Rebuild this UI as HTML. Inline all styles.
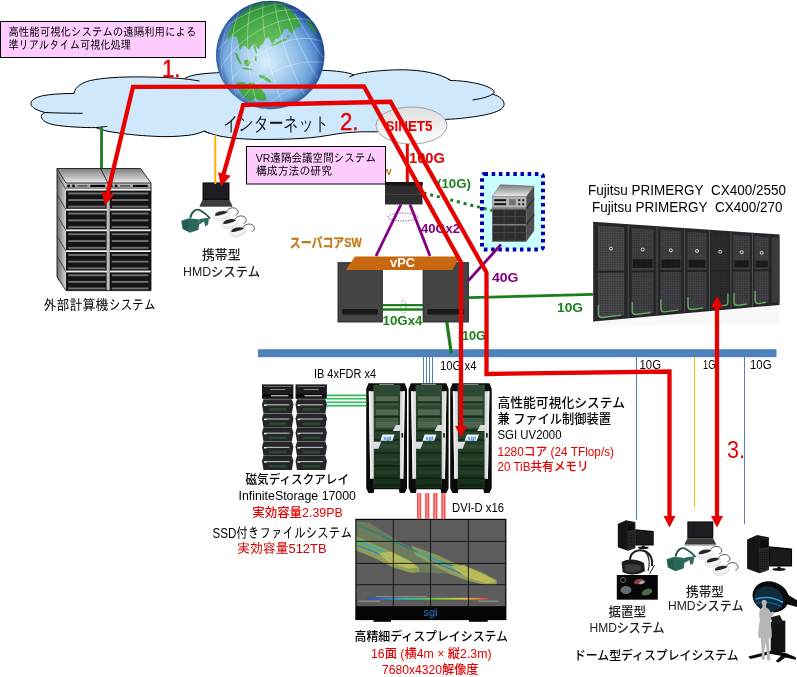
<!DOCTYPE html>
<html lang="ja"><head><meta charset="utf-8"><title>高性能可視化システム</title>
<style>
html,body{margin:0;padding:0;background:#fff;}
body{width:797px;height:677px;overflow:hidden;position:relative;}
svg{position:absolute;left:0;top:0;display:block;will-change:transform;}
text{font-family:"Liberation Sans","IPAGothic","Noto Sans CJK JP",sans-serif;}
.g{font-family:"Liberation Sans","WenQuanYi Zen Hei","IPAGothic",sans-serif;}
.n{font-family:"Liberation Sans","Noto Sans CJK JP",sans-serif;font-weight:500;}
.i{font-family:"Liberation Sans","IPAGothic","Noto Sans CJK JP",sans-serif;}
.b{font-weight:bold;}
</style></head><body>
<svg width="797" height="677" viewBox="0 0 797 677">
<defs>
<radialGradient id="globe" cx="0.46" cy="0.56" r="0.56">
<stop offset="0" stop-color="#daeefa"/><stop offset="0.35" stop-color="#acd2f0"/><stop offset="0.68" stop-color="#76ace0"/><stop offset="0.90" stop-color="#4278c4"/><stop offset="1" stop-color="#2a54a2"/>
</radialGradient>
<radialGradient id="land" gradientUnits="userSpaceOnUse" cx="340" cy="370" r="380">
<stop offset="0" stop-color="#7ccc6a"/><stop offset="0.45" stop-color="#55b450"/><stop offset="0.85" stop-color="#2f9636"/><stop offset="1" stop-color="#1f7a2c"/>
</radialGradient>
<radialGradient id="land2" gradientUnits="userSpaceOnUse" cx="400" cy="380" r="420">
<stop offset="0" stop-color="#7ccc6a"/><stop offset="0.45" stop-color="#55b450"/><stop offset="0.85" stop-color="#2f9636"/><stop offset="1" stop-color="#1f7a2c"/>
</radialGradient>
<radialGradient id="globeshade" cx="0.5" cy="0.5" r="0.5">
<stop offset="0" stop-color="#10306a" stop-opacity="0"/><stop offset="0.86" stop-color="#10306a" stop-opacity="0"/><stop offset="1" stop-color="#10306a" stop-opacity="0.45"/>
</radialGradient>
<linearGradient id="sinet" x1="0" y1="0" x2="0" y2="1"><stop offset="0" stop-color="#dedede"/><stop offset="1" stop-color="#ffffff"/></linearGradient>
<linearGradient id="topface" x1="0" y1="0" x2="0" y2="1"><stop offset="0" stop-color="#7c7c7c"/><stop offset="1" stop-color="#ececec"/></linearGradient>
<linearGradient id="panel" x1="0" y1="0" x2="0" y2="1"><stop offset="0" stop-color="#d0d0d0"/><stop offset="1" stop-color="#808080"/></linearGradient>
<linearGradient id="sideface" x1="0" y1="0" x2="1" y2="0"><stop offset="0" stop-color="#6c6c6c"/><stop offset="1" stop-color="#d4d4d4"/></linearGradient>
<linearGradient id="colorbar" x1="0" y1="0" x2="1" y2="0"><stop offset="0" stop-color="#3040d0"/><stop offset="0.3" stop-color="#30c0c0"/><stop offset="0.55" stop-color="#60d040"/><stop offset="0.8" stop-color="#e0d040"/><stop offset="1" stop-color="#e04030"/></linearGradient>
<linearGradient id="pcb" x1="0" y1="0" x2="0" y2="1"><stop offset="0" stop-color="#2e4a34"/><stop offset="0.45" stop-color="#25422a"/><stop offset="1" stop-color="#17301c"/></linearGradient>
<pattern id="mesh" width="2.400" height="2.400" patternUnits="userSpaceOnUse"><rect x="0" y="0" width="1.200" height="1.200" fill="#000" fill-opacity="0.35"/></pattern>
<clipPath id="globeclip"><circle cx="270.200" cy="55.100" r="54.300"/></clipPath>
<clipPath id="dispclip"><rect x="356.500" y="520" width="148.700" height="86.200"/></clipPath>
<pattern id="mesh2" width="8" height="8" patternUnits="userSpaceOnUse"><rect x="0" y="0" width="8" height="8" fill="#262626"/><rect x="0" y="0" width="4" height="4" fill="#0c0c0c"/></pattern>
</defs>
<g id="cloud">
<path d="M30.900,103.300 C31.500,99 38,96 48.800,94.800 C57,93.800 66,93.400 74.200,93.500 C74,89 79,84.500 86.500,81.600 C96,78.500 115,77 133.500,76.900 C150,76.800 170,77.500 184.500,78.800 C188,75.500 200,73.500 216.500,72.800 C250,70 300,69.500 322.600,70.300 C335,70.800 348,72 354,75 C360,72.500 385,69.500 403.500,69.800 C420,70 440,73 450.800,80.500 C465,80.500 489,84.500 493.800,90.800 C494.500,92 494,93.200 492.600,94.200 C499.500,96 504.300,100 504.100,104.600 C503.500,111 490,115 465.900,117.800 C458,118.800 452,119.200 446,119.300 C430,122 400,131 375.300,131.900 C365,131.500 350,132 337.600,133.800 C325,136 312,138 300,138.500 C290,139.200 270,139.600 254.100,139.400 C240,139 225,137.500 216.500,135.300 C212,134 207,132.500 204.200,131.100 C199,133.500 192,135 188.200,135.300 C175,136.800 165,137 152.300,136.200 C140,135.500 125,134.300 109,131.500 C104,130.500 99,129 95.900,127.600 C85,127.800 65,126.800 54.500,124.900 C47,123.500 41.500,120.500 41.300,116.500 C41.200,114.500 43,113.300 45.100,112.500 C37,110.500 31,107.500 30.900,103.300 Z" fill="#cfe8fc" stroke="#000" stroke-width="1"/>
<path d="M45.100,112.500 C55,113 70,113.300 82.700,113.300 M95.900,127.600 L107.200,126.400 M184.500,78.800 C190,79.500 195,80.300 199.500,81 M204.200,131.100 L209,133.200 M349.300,76.900 L354,75 M450.800,80.500 L448,79 M492.600,94.200 C489,96.500 482,98.700 472.500,99.900" fill="none" stroke="#000" stroke-width="1"/>
</g>
<g id="globe">
<circle cx="270.200" cy="55.100" r="54.300" fill="url(#globe)"/>
<g clip-path="url(#globeclip)">
<g transform="translate(210,0) scale(0.15060)" fill="url(#land2)">
<path d="M115,255 L125,215 L150,160 L185,110 L240,60 L300,25 L370,8 L440,12 L500,35 L540,70 L575,110 L600,150 L605,165 L590,180 L570,185 L560,200 L548,220 L530,215 L520,195 L505,190 L490,200 L480,225 L465,245 L450,255 L435,258 L425,280 L412,292 L402,272 L392,248 L375,250 L362,270 L352,292 L335,300 L325,330 L312,312 L300,295 L285,295 L270,312 L258,330 L245,318 L235,305 L218,302 L205,325 L198,335 L192,300 L185,265 L175,245 L150,240 L130,255 L120,270 Z"/>
<path d="M405,300 L430,290 L455,275 L480,262 L500,255 L515,262 L495,272 L470,285 L445,298 L415,308 Z"/>
<path d="M508,236 L522,232 L532,244 L520,252 L510,248 Z"/>
<path d="M165,350 L180,355 L200,400 L215,430 L200,425 L180,395 Z"/>
<path d="M225,400 L255,395 L268,415 L255,440 L230,435 Z"/>
<path d="M295,370 L308,375 L310,410 L298,400 Z"/>
<path d="M290,300 L302,300 L308,335 L314,358 L304,350 L296,330 Z"/>
<path d="M210,446 L245,452 L280,460 L278,468 L242,462 L210,455 Z"/>
<path d="M640,125 L670,150 L700,190 L715,230 L690,215 L660,180 L640,150 Z"/>
</g>
<g transform="translate(210,0) scale(0.16556)" fill="url(#land)">
<path d="M296,452 L330,458 L362,480 L372,500 L352,496 L326,478 L298,466 Z"/>
<path d="M160,500 L196,494 L226,508 L246,498 L262,500 L284,516 L312,540 L334,570 L342,596 L326,612 L296,604 L270,596 L246,608 L214,592 L190,566 L170,536 Z"/>
</g>
<g transform="translate(210,0) scale(0.16556)" fill="none" stroke="#ffffff" stroke-opacity="0.55" stroke-width="4">
<path d="M60,420 C120,300 260,180 420,130 C520,100 600,110 660,150"/>
<path d="M50,300 C130,200 260,110 400,70 C480,50 560,60 620,90"/>
<path d="M80,180 C160,100 280,50 380,30 C440,20 500,25 540,40"/>
<path d="M100,530 C160,420 300,300 460,250 C560,220 640,230 692,260"/>
<path d="M180,620 C240,520 360,430 500,390 C580,370 650,370 690,380"/>
<path d="M330,660 C380,590 470,540 560,520 C610,510 650,510 670,515"/>
<path d="M180,60 C120,200 110,400 160,600"/>
<path d="M250,20 C210,180 220,420 290,650"/>
<path d="M320,5 C310,170 350,420 440,630"/>
<path d="M390,10 C410,170 470,400 570,570"/>
<path d="M450,40 C500,180 570,360 650,470"/>
<path d="M510,80 C570,180 630,280 685,350"/>
<path d="M120,130 C60,240 50,380 90,520"/>
</g>
</g>
<circle cx="270.200" cy="55.100" r="54" fill="url(#globeshade)"/>
</g>
<g id="sinet">
<ellipse cx="411.500" cy="125.500" rx="35.500" ry="18.500" fill="url(#sinet)" stroke="#a0a0a0" stroke-width="1"/>
</g>
<g id="extracks">
<polygon points="57,168.500 66,183 66,290.600 57,277" fill="url(#sideface)"/>
<rect x="66" y="183" width="85" height="107.600" fill="#141414"/>
<rect x="66" y="183" width="85" height="5.800" fill="url(#panel)"/>
<rect x="67.3" y="184.600" width="2.600" height="2.600" fill="#0a0a0a"/><rect x="72.2" y="184.600" width="2.600" height="2.600" fill="#0a0a0a"/><rect x="77.5" y="185" width="10" height="1.600" fill="#555"/><rect x="90.3" y="184.800" width="14.800" height="2.200" fill="#050505"/>
<rect x="109.9" y="184.600" width="2.600" height="2.600" fill="#0a0a0a"/><rect x="114.8" y="184.600" width="2.600" height="2.600" fill="#0a0a0a"/><rect x="120.1" y="185" width="10" height="1.600" fill="#555"/><rect x="132.9" y="184.800" width="14.800" height="2.200" fill="#050505"/>
<rect x="66" y="188.8" width="85" height="1.800" fill="#eeeeee"/>
<rect x="68.200" y="192.5" width="37.300" height="1.900" fill="#707070"/><rect x="111.800" y="192.5" width="36.600" height="1.900" fill="#707070"/>
<rect x="68.200" y="199.1" width="37.300" height="1.900" fill="#707070"/><rect x="111.800" y="199.1" width="36.600" height="1.900" fill="#707070"/>
<rect x="68.200" y="205.7" width="37.300" height="1.900" fill="#707070"/><rect x="111.800" y="205.7" width="36.600" height="1.900" fill="#707070"/>
<polygon points="57,175.5 66,190.6 66,188.8 57,173.7" fill="#4a4a4a"/>
<rect x="66" y="208.8" width="85" height="1.800" fill="#eeeeee"/>
<rect x="68.200" y="212.6" width="37.300" height="1.900" fill="#707070"/><rect x="111.800" y="212.6" width="36.600" height="1.900" fill="#707070"/>
<rect x="68.200" y="219.4" width="37.300" height="1.900" fill="#707070"/><rect x="111.800" y="219.4" width="36.600" height="1.900" fill="#707070"/>
<rect x="68.200" y="226.2" width="37.300" height="1.900" fill="#707070"/><rect x="111.800" y="226.2" width="36.600" height="1.900" fill="#707070"/>
<polygon points="57,195.5 66,210.6 66,208.8 57,193.7" fill="#4a4a4a"/>
<rect x="66" y="229.4" width="85" height="1.800" fill="#eeeeee"/>
<rect x="68.200" y="233.3" width="37.300" height="1.900" fill="#707070"/><rect x="111.800" y="233.3" width="36.600" height="1.900" fill="#707070"/>
<rect x="68.200" y="240.1" width="37.300" height="1.900" fill="#707070"/><rect x="111.800" y="240.1" width="36.600" height="1.900" fill="#707070"/>
<rect x="68.200" y="246.9" width="37.300" height="1.900" fill="#707070"/><rect x="111.800" y="246.9" width="36.600" height="1.900" fill="#707070"/>
<polygon points="57,216.1 66,231.2 66,229.4 57,214.3" fill="#4a4a4a"/>
<rect x="66" y="250.2" width="85" height="1.800" fill="#eeeeee"/>
<rect x="68.200" y="254.0" width="37.300" height="1.900" fill="#707070"/><rect x="111.800" y="254.0" width="36.600" height="1.900" fill="#707070"/>
<rect x="68.200" y="260.7" width="37.300" height="1.900" fill="#707070"/><rect x="111.800" y="260.7" width="36.600" height="1.900" fill="#707070"/>
<rect x="68.200" y="267.4" width="37.300" height="1.900" fill="#707070"/><rect x="111.800" y="267.4" width="36.600" height="1.900" fill="#707070"/>
<polygon points="57,236.9 66,252.0 66,250.2 57,235.1" fill="#4a4a4a"/>
<rect x="66" y="270.6" width="85" height="1.800" fill="#eeeeee"/>
<rect x="68.200" y="274.3" width="37.300" height="1.900" fill="#707070"/><rect x="111.800" y="274.3" width="36.600" height="1.900" fill="#707070"/>
<rect x="68.200" y="280.9" width="37.300" height="1.900" fill="#707070"/><rect x="111.800" y="280.9" width="36.600" height="1.900" fill="#707070"/>
<rect x="68.200" y="287.5" width="37.300" height="1.900" fill="#707070"/><rect x="111.800" y="287.5" width="36.600" height="1.900" fill="#707070"/>
<polygon points="57,257.3 66,272.4 66,270.6 57,255.5" fill="#4a4a4a"/>
<rect x="106.600" y="183" width="2.400" height="107.600" fill="#bcbcbc"/>
<rect x="109" y="190" width="1" height="100" fill="#888"/>
<polygon points="57,168.500 140.500,168.500 151,183 66,183" fill="url(#topface)" stroke="#1a1a1a" stroke-width="0.9"/>
<line x1="100.500" y1="168.500" x2="108" y2="183" stroke="#1a1a1a" stroke-width="0.9"/>
<path d="M57,168.500 L57,277 L66,290.600 L151,290.600 L151,183" fill="none" stroke="#1a1a1a" stroke-width="0.9"/>
</g>
<g id="laptop1">
<rect x="202.5" y="182.4" width="27" height="17.7" fill="#101010"/>
<rect x="203.7" y="183.6" width="24.6" height="14.7" fill="#1e1e22"/>
<polygon points="202.5,200.1 229.5,200.1 232.5,206.0 199.5,206.0" fill="#3c3c3c"/>
<polygon points="199.5,206.0 232.5,206.0 232.0,207.0 200.0,207.0" fill="#777"/>
</g>
<g id="ghmd1" transform="translate(170,175) scale(0.125)">
<path d="M162,345 C172,292 212,262 247,286 C276,302 300,322 322,348" fill="none" stroke="#1f564c" stroke-width="15"/>
<path d="M225,358 C258,348 290,340 312,346 L304,398 L282,412 L272,372 L234,396 Z" fill="#2b6a5c"/>
<path d="M90,366 L150,346 L226,353 L234,396 L226,440 L160,462 L100,432 Z" fill="#2e6f61"/>
<path d="M98,374 L148,358 L152,452 L106,428 Z" fill="#255c50"/>
<path d="M152,358 L222,362 L226,436 L156,452 Z" fill="#2a665a"/>
</g>
<g id="whmd1" transform="translate(170,175) scale(0.125)">
<g transform="translate(0,0)"><path d="M452,292 C470,255 530,250 545,290 C548,306 540,316 524,322" fill="none" stroke="#3c3c3c" stroke-width="7"/><path d="M345,332 C348,312 362,300 384,294 C410,286 440,284 462,290 C476,296 478,318 470,336 C450,352 420,362 396,366 C372,366 350,354 345,332 Z" fill="#f6f6fa" stroke="#c8c8d0" stroke-width="4"/><path d="M360,318 C366,304 380,296 396,292 C420,286 444,286 464,296 C452,306 436,312 420,316 C400,322 380,326 362,326 Z" fill="#262626"/><path d="M352,340 C370,352 400,354 430,346 C450,340 462,334 470,326" fill="none" stroke="#d0d0d8" stroke-width="5"/></g>
<g transform="translate(65,65)"><path d="M452,292 C470,255 530,250 545,290 C548,306 540,316 524,322" fill="none" stroke="#3c3c3c" stroke-width="7"/><path d="M345,332 C348,312 362,300 384,294 C410,286 440,284 462,290 C476,296 478,318 470,336 C450,352 420,362 396,366 C372,366 350,354 345,332 Z" fill="#f6f6fa" stroke="#c8c8d0" stroke-width="4"/><path d="M360,318 C366,304 380,296 396,292 C420,286 444,286 464,296 C452,306 436,312 420,316 C400,322 380,326 362,326 Z" fill="#262626"/><path d="M352,340 C370,352 400,354 430,346 C450,340 462,334 470,326" fill="none" stroke="#d0d0d8" stroke-width="5"/></g>
<g transform="translate(130,130)"><path d="M452,292 C470,255 530,250 545,290 C548,306 540,316 524,322" fill="none" stroke="#3c3c3c" stroke-width="7"/><path d="M345,332 C348,312 362,300 384,294 C410,286 440,284 462,290 C476,296 478,318 470,336 C450,352 420,362 396,366 C372,366 350,354 345,332 Z" fill="#f6f6fa" stroke="#c8c8d0" stroke-width="4"/><path d="M360,318 C366,304 380,296 396,292 C420,286 444,286 464,296 C452,306 436,312 420,316 C400,322 380,326 362,326 Z" fill="#262626"/><path d="M352,340 C370,352 400,354 430,346 C450,340 462,334 470,326" fill="none" stroke="#d0d0d8" stroke-width="5"/></g>
</g>
<g id="coresw">
<text class="g b" x="382.500" y="175" font-size="9.500" fill="#c47a1a">W</text>
<rect x="385" y="182" width="37.500" height="22.500" fill="#2e2e2e"/>
<rect x="385" y="182" width="37.500" height="3.500" fill="#151515"/>
<rect x="385" y="194" width="37.500" height="1" fill="#444"/>
</g>
<g id="supercore">
<rect x="337.700" y="262.300" width="45" height="60" fill="#444444"/>
<rect x="338.200" y="262.800" width="44" height="59" fill="none" stroke="#333333" stroke-width="1"/>
<rect x="342" y="309" width="36" height="5.500" rx="1.500" fill="#1a1a1a"/>
<rect x="422.800" y="262.300" width="46" height="60" fill="#444444"/>
<rect x="423.300" y="262.800" width="45" height="59" fill="none" stroke="#333333" stroke-width="1"/>
<rect x="427.300" y="309" width="37" height="5.500" rx="1.500" fill="#1a1a1a"/>
</g>
<g id="dotbox">
<rect x="482" y="174" width="61" height="75.500" fill="#ccffff"/>
<rect x="482" y="174" width="61" height="75.500" fill="none" rx="2.500" stroke="#0000b0" stroke-width="4" stroke-dasharray="3.500 3.700"/>
</g>
<g id="router">
<polygon points="500.2,184.7 534.2,186.2 526.2,196.7 492.2,196.7" fill="url(#topface)" stroke="#555" stroke-width="0.5"/>
<polygon points="534.2,186.2 534.2,230.7 526.2,241.7 526.2,196.7" fill="#505050"/>
<polygon points="534.2,197.7 534.2,199.7 526.2,209.7 526.2,207.7" fill="#2a2a2a"/>
<polygon points="534.2,213.7 534.2,215.7 526.2,225.7 526.2,223.7" fill="#2a2a2a"/>
<rect x="492.2" y="196.7" width="34.0" height="45" fill="#3c3c3c"/>
<rect x="492.2" y="196.7" width="34.0" height="11" fill="#b4b4b4"/>
<rect x="494.2" y="199.2" width="12" height="2" fill="#111"/><rect x="494.2" y="203.2" width="12" height="2" fill="#111"/>
<rect x="509.2" y="199.2" width="6.500" height="6" fill="#707070"/>
<rect x="518.2" y="199.2" width="2" height="2" fill="#222"/><rect x="522.2" y="199.2" width="2" height="2" fill="#222"/><rect x="518.2" y="203.2" width="2" height="2" fill="#222"/><rect x="522.2" y="203.2" width="2" height="2" fill="#222"/>
<rect x="493.2" y="209.7" width="32.0" height="14" fill="#2c2c2c"/>
<rect x="493.2" y="216.2" width="32.0" height="1" fill="#4c4c4c"/>
<rect x="503.7" y="209.7" width="0.800" height="14" fill="#4c4c4c"/><rect x="514.7" y="209.7" width="0.800" height="14" fill="#4c4c4c"/>
<rect x="492.2" y="208.2" width="34.0" height="1.200" fill="#909090"/>
<rect x="493.2" y="225.7" width="32.0" height="14" fill="#2c2c2c"/>
<rect x="493.2" y="232.2" width="32.0" height="1" fill="#4c4c4c"/>
<rect x="503.7" y="225.7" width="0.800" height="14" fill="#4c4c4c"/><rect x="514.7" y="225.7" width="0.800" height="14" fill="#4c4c4c"/>
<rect x="492.2" y="224.2" width="34.0" height="1.200" fill="#909090"/>
</g>
<g id="fujitsu">
<polygon points="593,319.4 779.5,302.9 779.5,325 593,326" fill="#f8f8f8"/>
<polygon points="593,221.7 779.5,234.5 779.5,304.9 593,321.4" fill="#26262a"/>
<polygon points="597.9,225.5 624.2,227.3 624.2,270.5 597.9,270.8" fill="#4a4a4e"/>
<polygon points="597.9,272.8 624.2,272.5 624.2,315.6 597.9,318.0" fill="#4a4a4e"/>
<polygon points="597.9,225.5 624.2,227.3 624.2,315.6 597.9,318.0" fill="url(#mesh)"/>
<line x1="593.5" y1="222.7" x2="593.5" y2="320.4" stroke="#5a5a5a" stroke-width="0.8"/>
<circle cx="611.0" cy="248.6" r="1.500" fill="none" stroke="#e8e8e8" stroke-width="0.9"/>
<path d="M598.4,305.0 L598.4,314.0 Q598.4,317.5 602.4,317.5 L621.2,315.1" fill="none" stroke="#62b05a" stroke-width="1.400"/>
<polygon points="631.7,227.9 653.6,229.4 653.6,270.2 631.7,270.4" fill="#424246"/>
<polygon points="631.7,272.4 653.6,272.2 653.6,313.0 631.7,315.0" fill="#424246"/>
<polygon points="631.7,227.9 653.6,229.4 653.6,313.0 631.7,315.0" fill="url(#mesh)"/>
<rect x="632.7" y="259.2" width="19.9" height="8.7" fill="#1a1a1a"/>
<line x1="628.2" y1="225.1" x2="628.2" y2="317.3" stroke="#5a5a5a" stroke-width="0.8"/>
<circle cx="642.7" cy="249.5" r="1.500" fill="none" stroke="#e8e8e8" stroke-width="0.9"/>
<path d="M632.2,302.0 L632.2,311.0 Q632.2,314.5 636.2,314.5 L650.6,312.5" fill="none" stroke="#62b05a" stroke-width="1.400"/>
<polygon points="660.4,229.8 681.2,231.3 681.2,269.9 660.4,270.1" fill="#424246"/>
<polygon points="660.4,272.1 681.2,271.9 681.2,310.6 660.4,312.4" fill="#424246"/>
<polygon points="660.4,229.8 681.2,231.3 681.2,310.6 660.4,312.4" fill="url(#mesh)"/>
<rect x="661.4" y="259.6" width="18.9" height="8.3" fill="#1a1a1a"/>
<line x1="657.0" y1="227.1" x2="657.0" y2="314.8" stroke="#5a5a5a" stroke-width="0.8"/>
<circle cx="670.8" cy="250.3" r="1.500" fill="none" stroke="#e8e8e8" stroke-width="0.9"/>
<path d="M660.9,299.4 L660.9,308.4 Q660.9,311.9 664.9,311.9 L678.2,310.1" fill="none" stroke="#62b05a" stroke-width="1.400"/>
<polygon points="687.5,231.7 706.5,233.0 706.5,269.7 687.5,269.9" fill="#424246"/>
<polygon points="687.5,271.9 706.5,271.7 706.5,308.4 687.5,310.0" fill="#424246"/>
<polygon points="687.5,231.7 706.5,233.0 706.5,308.4 687.5,310.0" fill="url(#mesh)"/>
<rect x="688.5" y="259.9" width="17.0" height="7.8" fill="#1a1a1a"/>
<line x1="684.5" y1="228.9" x2="684.5" y2="312.3" stroke="#5a5a5a" stroke-width="0.8"/>
<circle cx="697.0" cy="251.0" r="1.500" fill="none" stroke="#e8e8e8" stroke-width="0.9"/>
<path d="M688.0,297.0 L688.0,306.0 Q688.0,309.5 692.0,309.5 L703.5,307.9" fill="none" stroke="#62b05a" stroke-width="1.400"/>
<polygon points="712.0,233.4 728.4,234.5 728.4,269.5 712.0,269.6" fill="#2e2e30"/>
<polygon points="712.0,271.6 728.4,271.5 728.4,306.4 712.0,307.9" fill="#2e2e30"/>
<polygon points="712.0,233.4 728.4,234.5 728.4,306.4 712.0,307.9" fill="url(#mesh)"/>
<line x1="709.5" y1="230.7" x2="709.5" y2="310.1" stroke="#5a5a5a" stroke-width="0.8"/>
<circle cx="720.2" cy="251.7" r="1.500" fill="none" stroke="#e8e8e8" stroke-width="0.9"/>
<path d="M727.9,293.4 L727.9,302.4 Q727.9,305.4 723.9,305.4 L715.0,306.9" fill="none" stroke="#62b05a" stroke-width="1.400"/>
<polygon points="733.5,234.8 749.9,236.0 749.9,269.2 733.5,269.4" fill="#424246"/>
<polygon points="733.5,271.4 749.9,271.2 749.9,304.5 733.5,306.0" fill="#424246"/>
<polygon points="733.5,234.8 749.9,236.0 749.9,304.5 733.5,306.0" fill="url(#mesh)"/>
<rect x="734.5" y="260.4" width="14.3" height="7.1" fill="#1a1a1a"/>
<line x1="731.0" y1="232.1" x2="731.0" y2="308.2" stroke="#5a5a5a" stroke-width="0.8"/>
<circle cx="741.7" cy="252.2" r="1.500" fill="none" stroke="#e8e8e8" stroke-width="0.9"/>
<path d="M734.0,293.0 L734.0,302.0 Q734.0,305.5 738.0,305.5 L746.9,304.0" fill="none" stroke="#62b05a" stroke-width="1.400"/>
<polygon points="754.6,236.3 768.8,237.3 768.8,269.1 754.6,269.2" fill="#424246"/>
<polygon points="754.6,271.2 768.8,271.1 768.8,302.8 754.6,304.1" fill="#424246"/>
<polygon points="754.6,236.3 768.8,237.3 768.8,302.8 754.6,304.1" fill="url(#mesh)"/>
<rect x="755.6" y="260.7" width="12.2" height="6.8" fill="#1a1a1a"/>
<line x1="752.5" y1="233.6" x2="752.5" y2="306.3" stroke="#5a5a5a" stroke-width="0.8"/>
<circle cx="761.7" cy="252.8" r="1.500" fill="none" stroke="#e8e8e8" stroke-width="0.9"/>
<path d="M755.1,291.1 L755.1,300.1 Q755.1,303.6 759.1,303.6 L765.8,302.3" fill="none" stroke="#62b05a" stroke-width="1.400"/>
<polygon points="771.7,236.9 779.5,237.5 779.5,301.9 771.7,302.7" fill="#3a3a3a"/>
</g>
<g id="bus">
<rect x="258" y="349.200" width="518.500" height="8" fill="#4f81bd"/>
</g>
<g id="storage">
<rect x="262.0" y="384.400" width="31.4" height="14.500" fill="#1c1c1c"/>
<rect x="264.0" y="386" width="27.4" height="1" fill="#6a6a6a"/>
<rect x="270.0" y="389" width="15.399999999999999" height="1" fill="#888"/>
<rect x="263.0" y="394" width="29.4" height="3.200" fill="#080808"/>
<rect x="271.0" y="395" width="17.4" height="1.400" fill="#b0b0b0"/>
<polygon points="263.5,399.2 291.9,399.2 293.4,404.2 291.9,413.2 263.5,413.2 262.0,404.2" fill="#24262a"/>
<rect x="266.0" y="404.2" width="23.4" height="1.200" fill="#b4b4b4"/>
<rect x="264.0" y="404.4" width="2.500" height="1.500" fill="#e8e8e8"/>
<rect x="269.0" y="408.2" width="17.4" height="2.500" fill="#2c4a30"/>
<polygon points="263.5,413.4 291.9,413.4 293.4,418.4 291.9,427.4 263.5,427.4 262.0,418.4" fill="#24262a"/>
<rect x="266.0" y="418.4" width="23.4" height="1.200" fill="#b4b4b4"/>
<rect x="264.0" y="418.6" width="2.500" height="1.500" fill="#e8e8e8"/>
<rect x="269.0" y="422.4" width="17.4" height="2.500" fill="#2c4a30"/>
<polygon points="263.5,427.6 291.9,427.6 293.4,432.6 291.9,441.6 263.5,441.6 262.0,432.6" fill="#24262a"/>
<rect x="266.0" y="432.6" width="23.4" height="1.200" fill="#b4b4b4"/>
<rect x="264.0" y="432.8" width="2.500" height="1.500" fill="#e8e8e8"/>
<rect x="269.0" y="436.6" width="17.4" height="2.500" fill="#2c4a30"/>
<polygon points="263.5,441.8 291.9,441.8 293.4,446.8 291.9,455.8 263.5,455.8 262.0,446.8" fill="#24262a"/>
<rect x="266.0" y="446.8" width="23.4" height="1.200" fill="#b4b4b4"/>
<rect x="264.0" y="447.0" width="2.500" height="1.500" fill="#e8e8e8"/>
<rect x="269.0" y="450.8" width="17.4" height="2.500" fill="#2c4a30"/>
<polygon points="263.5,456.0 291.9,456.0 293.4,461.0 291.9,470.0 263.5,470.0 262.0,461.0" fill="#24262a"/>
<rect x="266.0" y="461.0" width="23.4" height="1.200" fill="#b4b4b4"/>
<rect x="264.0" y="461.2" width="2.500" height="1.500" fill="#e8e8e8"/>
<rect x="269.0" y="465.0" width="17.4" height="2.500" fill="#2c4a30"/>
<rect x="295.5" y="384.400" width="31.4" height="14.500" fill="#1c1c1c"/>
<rect x="297.5" y="386" width="27.4" height="1" fill="#6a6a6a"/>
<rect x="303.5" y="389" width="15.399999999999999" height="1" fill="#888"/>
<rect x="296.5" y="394" width="29.4" height="3.200" fill="#080808"/>
<rect x="304.5" y="395" width="17.4" height="1.400" fill="#b0b0b0"/>
<polygon points="297.0,399.2 325.4,399.2 326.9,404.2 325.4,413.2 297.0,413.2 295.5,404.2" fill="#24262a"/>
<rect x="299.5" y="404.2" width="23.4" height="1.200" fill="#b4b4b4"/>
<rect x="297.5" y="404.4" width="2.500" height="1.500" fill="#e8e8e8"/>
<rect x="302.5" y="408.2" width="17.4" height="2.500" fill="#2c4a30"/>
<polygon points="297.0,413.4 325.4,413.4 326.9,418.4 325.4,427.4 297.0,427.4 295.5,418.4" fill="#24262a"/>
<rect x="299.5" y="418.4" width="23.4" height="1.200" fill="#b4b4b4"/>
<rect x="297.5" y="418.6" width="2.500" height="1.500" fill="#e8e8e8"/>
<rect x="302.5" y="422.4" width="17.4" height="2.500" fill="#2c4a30"/>
<polygon points="297.0,427.6 325.4,427.6 326.9,432.6 325.4,441.6 297.0,441.6 295.5,432.6" fill="#24262a"/>
<rect x="299.5" y="432.6" width="23.4" height="1.200" fill="#b4b4b4"/>
<rect x="297.5" y="432.8" width="2.500" height="1.500" fill="#e8e8e8"/>
<rect x="302.5" y="436.6" width="17.4" height="2.500" fill="#2c4a30"/>
<polygon points="297.0,441.8 325.4,441.8 326.9,446.8 325.4,455.8 297.0,455.8 295.5,446.8" fill="#24262a"/>
<rect x="299.5" y="446.8" width="23.4" height="1.200" fill="#b4b4b4"/>
<rect x="297.5" y="447.0" width="2.500" height="1.500" fill="#e8e8e8"/>
<rect x="302.5" y="450.8" width="17.4" height="2.500" fill="#2c4a30"/>
<polygon points="297.0,456.0 325.4,456.0 326.9,461.0 325.4,470.0 297.0,470.0 295.5,461.0" fill="#24262a"/>
<rect x="299.5" y="461.0" width="23.4" height="1.200" fill="#b4b4b4"/>
<rect x="297.5" y="461.2" width="2.500" height="1.500" fill="#e8e8e8"/>
<rect x="302.5" y="465.0" width="17.4" height="2.500" fill="#2c4a30"/>
</g>
<g id="sgi1" transform="translate(366.2,383.3) scale(0.18545,0.18593)">
<path d="M12,0 L208,0 L220,30 L220,565 L208,590 L180,590 L176,570 L44,570 L40,590 L12,590 L0,565 L0,30 Z" fill="#0b0b0b"/>
<rect x="38" y="8" width="146" height="555" fill="url(#pcb)"/>
<rect x="52" y="70" width="120" height="26" fill="#a8b8a4" fill-opacity="0.3"/>
<rect x="52" y="105" width="120" height="14" fill="#a8b8a4" fill-opacity="0.18"/>
<rect x="52" y="140" width="120" height="30" fill="#a8b8a4" fill-opacity="0.32"/>
<rect x="52" y="185" width="120" height="18" fill="#a8b8a4" fill-opacity="0.2"/>
<rect x="52" y="205" width="120" height="34" fill="#a8b8a4" fill-opacity="0.3"/>
<rect x="52" y="330" width="120" height="20" fill="#a8b8a4" fill-opacity="0.1"/>
<rect x="52" y="400" width="120" height="18" fill="#a8b8a4" fill-opacity="0.08"/>
<rect x="52" y="470" width="120" height="18" fill="#a8b8a4" fill-opacity="0.08"/>
<rect x="44" y="98" width="136" height="9" fill="#081008" fill-opacity="0.5"/>
<rect x="44" y="176" width="136" height="9" fill="#081008" fill-opacity="0.5"/>
<rect x="44" y="250" width="136" height="9" fill="#081008" fill-opacity="0.5"/>
<rect x="44" y="300" width="136" height="9" fill="#081008" fill-opacity="0.5"/>
<rect x="44" y="370" width="136" height="9" fill="#081008" fill-opacity="0.5"/>
<rect x="44" y="440" width="136" height="9" fill="#081008" fill-opacity="0.5"/>
<rect x="44" y="505" width="136" height="9" fill="#081008" fill-opacity="0.5"/>
<rect x="44" y="545" width="136" height="9" fill="#081008" fill-opacity="0.5"/>
<polygon points="14,43 40,43 41,314 81,314 66,352 41,352 41,514 22,514" fill="#dcdee0"/>
<polygon points="14,43 24,43 28,514 22,514" fill="#f4f4f4"/>
<polygon points="208,43 183,43 182,224 160,224 143,257 182,257 182,514 200,514" fill="#d8dadc"/>
<polygon points="208,43 198,43 194,514 200,514" fill="#f0f0f0"/>
<rect x="190" y="268" width="9" height="24" fill="#1a1a1a"/>
<polygon points="88,276 153,276 141,309 76,309" fill="#e4eefa"/>
<text class="g b" x="114" y="304" font-size="30" fill="#2a7fd0" text-anchor="middle">sgi</text>
<rect x="70" y="3" width="80" height="6" fill="#8a8a8a"/>
</g>
<g id="sgi2" transform="translate(408.6,383.3) scale(0.18182,0.18593)">
<path d="M12,0 L208,0 L220,30 L220,565 L208,590 L180,590 L176,570 L44,570 L40,590 L12,590 L0,565 L0,30 Z" fill="#0b0b0b"/>
<rect x="38" y="8" width="146" height="555" fill="url(#pcb)"/>
<rect x="52" y="70" width="120" height="26" fill="#a8b8a4" fill-opacity="0.3"/>
<rect x="52" y="105" width="120" height="14" fill="#a8b8a4" fill-opacity="0.18"/>
<rect x="52" y="140" width="120" height="30" fill="#a8b8a4" fill-opacity="0.32"/>
<rect x="52" y="185" width="120" height="18" fill="#a8b8a4" fill-opacity="0.2"/>
<rect x="52" y="205" width="120" height="34" fill="#a8b8a4" fill-opacity="0.3"/>
<rect x="52" y="330" width="120" height="20" fill="#a8b8a4" fill-opacity="0.1"/>
<rect x="52" y="400" width="120" height="18" fill="#a8b8a4" fill-opacity="0.08"/>
<rect x="52" y="470" width="120" height="18" fill="#a8b8a4" fill-opacity="0.08"/>
<rect x="44" y="98" width="136" height="9" fill="#081008" fill-opacity="0.5"/>
<rect x="44" y="176" width="136" height="9" fill="#081008" fill-opacity="0.5"/>
<rect x="44" y="250" width="136" height="9" fill="#081008" fill-opacity="0.5"/>
<rect x="44" y="300" width="136" height="9" fill="#081008" fill-opacity="0.5"/>
<rect x="44" y="370" width="136" height="9" fill="#081008" fill-opacity="0.5"/>
<rect x="44" y="440" width="136" height="9" fill="#081008" fill-opacity="0.5"/>
<rect x="44" y="505" width="136" height="9" fill="#081008" fill-opacity="0.5"/>
<rect x="44" y="545" width="136" height="9" fill="#081008" fill-opacity="0.5"/>
<polygon points="14,43 40,43 41,314 81,314 66,352 41,352 41,514 22,514" fill="#dcdee0"/>
<polygon points="14,43 24,43 28,514 22,514" fill="#f4f4f4"/>
<polygon points="208,43 183,43 182,224 160,224 143,257 182,257 182,514 200,514" fill="#d8dadc"/>
<polygon points="208,43 198,43 194,514 200,514" fill="#f0f0f0"/>
<rect x="190" y="268" width="9" height="24" fill="#1a1a1a"/>
<polygon points="88,276 153,276 141,309 76,309" fill="#e4eefa"/>
<text class="g b" x="114" y="304" font-size="30" fill="#2a7fd0" text-anchor="middle">sgi</text>
<rect x="70" y="3" width="80" height="6" fill="#8a8a8a"/>
</g>
<g id="sgi3" transform="translate(450.2,383.3) scale(0.18864,0.18593)">
<path d="M12,0 L208,0 L220,30 L220,565 L208,590 L180,590 L176,570 L44,570 L40,590 L12,590 L0,565 L0,30 Z" fill="#0b0b0b"/>
<rect x="38" y="8" width="146" height="555" fill="url(#pcb)"/>
<rect x="52" y="70" width="120" height="26" fill="#a8b8a4" fill-opacity="0.3"/>
<rect x="52" y="105" width="120" height="14" fill="#a8b8a4" fill-opacity="0.18"/>
<rect x="52" y="140" width="120" height="30" fill="#a8b8a4" fill-opacity="0.32"/>
<rect x="52" y="185" width="120" height="18" fill="#a8b8a4" fill-opacity="0.2"/>
<rect x="52" y="205" width="120" height="34" fill="#a8b8a4" fill-opacity="0.3"/>
<rect x="52" y="330" width="120" height="20" fill="#a8b8a4" fill-opacity="0.1"/>
<rect x="52" y="400" width="120" height="18" fill="#a8b8a4" fill-opacity="0.08"/>
<rect x="52" y="470" width="120" height="18" fill="#a8b8a4" fill-opacity="0.08"/>
<rect x="44" y="98" width="136" height="9" fill="#081008" fill-opacity="0.5"/>
<rect x="44" y="176" width="136" height="9" fill="#081008" fill-opacity="0.5"/>
<rect x="44" y="250" width="136" height="9" fill="#081008" fill-opacity="0.5"/>
<rect x="44" y="300" width="136" height="9" fill="#081008" fill-opacity="0.5"/>
<rect x="44" y="370" width="136" height="9" fill="#081008" fill-opacity="0.5"/>
<rect x="44" y="440" width="136" height="9" fill="#081008" fill-opacity="0.5"/>
<rect x="44" y="505" width="136" height="9" fill="#081008" fill-opacity="0.5"/>
<rect x="44" y="545" width="136" height="9" fill="#081008" fill-opacity="0.5"/>
<polygon points="14,43 40,43 41,314 81,314 66,352 41,352 41,514 22,514" fill="#dcdee0"/>
<polygon points="14,43 24,43 28,514 22,514" fill="#f4f4f4"/>
<polygon points="208,43 183,43 182,224 160,224 143,257 182,257 182,514 200,514" fill="#d8dadc"/>
<polygon points="208,43 198,43 194,514 200,514" fill="#f0f0f0"/>
<rect x="190" y="268" width="9" height="24" fill="#1a1a1a"/>
<polygon points="88,276 153,276 141,309 76,309" fill="#e4eefa"/>
<text class="g b" x="114" y="304" font-size="30" fill="#2a7fd0" text-anchor="middle">sgi</text>
<rect x="70" y="3" width="80" height="6" fill="#8a8a8a"/>
</g>
<g id="display">
<rect x="355.300" y="518.800" width="151.100" height="101.300" fill="#050505"/>
<rect x="356.500" y="520" width="148.700" height="86.200" fill="#5c5c5c"/>
<g clip-path="url(#dispclip)">
<g transform="translate(345,510) scale(0.21958)">
<path d="M52,50 L110,58 L260,150 L400,220 L520,250 L610,275 L690,318 L692,342 L640,342 L560,322 L470,290 L340,285 L300,286 L220,262 L130,216 L52,182 Z" fill="#7f9560" fill-opacity="0.55"/>
<path d="M52,120 L120,150 L200,185 L300,235 L335,258 L340,282 L300,286 L220,262 L130,216 L52,186 Z" fill="#9aac58" fill-opacity="0.7"/>
<path d="M300,160 L420,205 L520,250 L600,280 L690,320 L692,342 L640,342 L560,322 L480,292 L400,250 L320,205 Z" fill="#9cae58" fill-opacity="0.7"/>
<path d="M52,140 C120,165 200,200 290,245" fill="none" stroke="#38b0a0" stroke-width="9"/>
<path d="M52,160 C110,180 170,205 240,240" fill="none" stroke="#3c78c8" stroke-width="5"/>
<path d="M60,70 C180,120 300,180 420,230 C470,250 520,265 560,285" fill="none" stroke="#2f7f6f" stroke-width="7"/>
<path d="M330,190 C400,225 460,250 540,280" fill="none" stroke="#38a8b0" stroke-width="7"/>
<path d="M380,225 C430,250 480,268 530,290" fill="none" stroke="#3c60b8" stroke-width="4"/>
<path d="M150,195 L210,190 L300,235 L330,262 L290,268 L200,240 Z" fill="#c4c256" fill-opacity="0.8"/>
<path d="M480,255 L540,250 L640,295 L690,325 L650,335 L560,310 Z" fill="#c4c256" fill-opacity="0.8"/>
<rect x="100" y="400" width="550" height="8" fill="url(#colorbar)"/>
<rect x="60" y="413" width="100" height="4" fill="#c8c8c8" fill-opacity="0.7"/><rect x="605" y="413" width="95" height="4" fill="#c8c8c8" fill-opacity="0.7"/><rect x="140" y="392" width="230" height="4" fill="#b0b0b0" fill-opacity="0.6"/>
</g>
</g>
<line x1="393.3" y1="520" x2="393.3" y2="606.200" stroke="#101010" stroke-width="0.9"/>
<line x1="430.6" y1="520" x2="430.6" y2="606.200" stroke="#101010" stroke-width="0.9"/>
<line x1="468.4" y1="520" x2="468.4" y2="606.200" stroke="#101010" stroke-width="0.9"/>
<line x1="356.500" y1="541.4" x2="505.200" y2="541.4" stroke="#101010" stroke-width="0.9"/>
<line x1="356.500" y1="563.4" x2="505.200" y2="563.4" stroke="#101010" stroke-width="0.9"/>
<line x1="356.500" y1="584.7" x2="505.200" y2="584.7" stroke="#101010" stroke-width="0.9"/>
<rect x="373.500" y="620" width="17.500" height="1.800" fill="#050505"/><rect x="469" y="620" width="18.700" height="1.800" fill="#050505"/>
<text class="g" x="430.500" y="615.500" font-size="11" fill="#2a7fd0" text-anchor="middle">sgi</text>
</g>
<g id="pc1" transform="translate(617.8,520.3) scale(0.17978) translate(-45,-45)">
<polygon points="45,65 90,45 142,55 142,200 100,215 45,195" fill="#141414"/>
<polygon points="97,62 142,58 142,198 100,212" fill="#2c2c2c"/>
<polygon points="100,66 138,63 138,100 100,104" fill="#0c0c0c"/>
<polygon points="100,112 138,109 138,190 100,204" fill="url(#mesh2)"/>
<polygon points="142,95 245,105 245,185 142,185" fill="#0a0a0a"/>
<polygon points="148,103 240,111 240,178 148,178" fill="#1a1a1c"/>
<rect x="180" y="185" width="14" height="12" fill="#111"/>
<ellipse cx="187" cy="198" rx="30" ry="7" fill="#141414"/>
</g>
<g id="pc2" transform="translate(747.1,535.1) scale(0.22472) translate(-45,-45)">
<polygon points="45,65 90,45 142,55 142,200 100,215 45,195" fill="#141414"/>
<polygon points="97,62 142,58 142,198 100,212" fill="#2c2c2c"/>
<polygon points="100,66 138,63 138,100 100,104" fill="#0c0c0c"/>
<polygon points="100,112 138,109 138,190 100,204" fill="url(#mesh2)"/>
<polygon points="142,95 245,105 245,185 142,185" fill="#0a0a0a"/>
<polygon points="148,103 240,111 240,178 148,178" fill="#1a1a1c"/>
<rect x="180" y="185" width="14" height="12" fill="#111"/>
<ellipse cx="187" cy="198" rx="30" ry="7" fill="#141414"/>
</g>
<g id="shmd">
<path d="M630,562 C629,551 639,549 644.500,551 C651,553.500 653,560 652,566" fill="none" stroke="#1a1a1a" stroke-width="2"/>
<path d="M645.500,552 C650,557 650,565 648,571" fill="none" stroke="#333" stroke-width="1.200"/>
<path d="M621.600,562 C628,558 638,559 644,563 L645,571 C638,575.500 628,575.500 622.600,572 Z" fill="#1c1c1c"/>
<path d="M625,565 C630,563 637,564 641,566 L641,570 C636,573 629,573 625,571 Z" fill="#3a3a3a"/>
<line x1="649.500" y1="574" x2="654.500" y2="565" stroke="#222" stroke-width="1"/>
<rect x="616.800" y="575" width="41" height="24.700" fill="#060606"/>
<ellipse cx="626" cy="590" rx="5.500" ry="4" fill="#7a8a88" opacity="0.8"/>
<ellipse cx="639" cy="581.500" rx="5" ry="2.500" fill="#b04848" opacity="0.8" transform="rotate(-15 639 581.500)"/>
<ellipse cx="647" cy="592" rx="5.500" ry="3" fill="#5a8a5a" opacity="0.8" transform="rotate(-20 647 592)"/>
<circle cx="623" cy="580" r="2.500" fill="none" stroke="#888" stroke-width="0.7"/>
<ellipse cx="642" cy="582.500" rx="3" ry="1.500" fill="#ddd" opacity="0.7" transform="rotate(-15 642 582.500)"/>
</g>
<g id="laptop2">
<rect x="687.3" y="521.4" width="26" height="17.3" fill="#101010"/>
<rect x="688.5" y="522.6" width="23.6" height="14.3" fill="#1e1e22"/>
<polygon points="687.3,538.7 713.3,538.7 716.3,544.4 684.3,544.4" fill="#3c3c3c"/>
<polygon points="684.3,544.4 716.3,544.4 715.8,545.4 684.8,545.4" fill="#777"/>
</g>
<g id="ghmd2" transform="translate(655.3,513.5) scale(0.125)">
<path d="M162,345 C172,292 212,262 247,286 C276,302 300,322 322,348" fill="none" stroke="#1f564c" stroke-width="15"/>
<path d="M225,358 C258,348 290,340 312,346 L304,398 L282,412 L272,372 L234,396 Z" fill="#2b6a5c"/>
<path d="M90,366 L150,346 L226,353 L234,396 L226,440 L160,462 L100,432 Z" fill="#2e6f61"/>
<path d="M98,374 L148,358 L152,452 L106,428 Z" fill="#255c50"/>
<path d="M152,358 L222,362 L226,436 L156,452 Z" fill="#2a665a"/>
</g>
<g id="whmd2" transform="translate(653.6,513.6) scale(0.125)">
<g transform="translate(0,0)"><path d="M452,292 C470,255 530,250 545,290 C548,306 540,316 524,322" fill="none" stroke="#3c3c3c" stroke-width="7"/><path d="M345,332 C348,312 362,300 384,294 C410,286 440,284 462,290 C476,296 478,318 470,336 C450,352 420,362 396,366 C372,366 350,354 345,332 Z" fill="#f6f6fa" stroke="#c8c8d0" stroke-width="4"/><path d="M360,318 C366,304 380,296 396,292 C420,286 444,286 464,296 C452,306 436,312 420,316 C400,322 380,326 362,326 Z" fill="#262626"/><path d="M352,340 C370,352 400,354 430,346 C450,340 462,334 470,326" fill="none" stroke="#d0d0d8" stroke-width="5"/></g>
<g transform="translate(65,65)"><path d="M452,292 C470,255 530,250 545,290 C548,306 540,316 524,322" fill="none" stroke="#3c3c3c" stroke-width="7"/><path d="M345,332 C348,312 362,300 384,294 C410,286 440,284 462,290 C476,296 478,318 470,336 C450,352 420,362 396,366 C372,366 350,354 345,332 Z" fill="#f6f6fa" stroke="#c8c8d0" stroke-width="4"/><path d="M360,318 C366,304 380,296 396,292 C420,286 444,286 464,296 C452,306 436,312 420,316 C400,322 380,326 362,326 Z" fill="#262626"/><path d="M352,340 C370,352 400,354 430,346 C450,340 462,334 470,326" fill="none" stroke="#d0d0d8" stroke-width="5"/></g>
<g transform="translate(130,130)"><path d="M452,292 C470,255 530,250 545,290 C548,306 540,316 524,322" fill="none" stroke="#3c3c3c" stroke-width="7"/><path d="M345,332 C348,312 362,300 384,294 C410,286 440,284 462,290 C476,296 478,318 470,336 C450,352 420,362 396,366 C372,366 350,354 345,332 Z" fill="#f6f6fa" stroke="#c8c8d0" stroke-width="4"/><path d="M360,318 C366,304 380,296 396,292 C420,286 444,286 464,296 C452,306 436,312 420,316 C400,322 380,326 362,326 Z" fill="#262626"/><path d="M352,340 C370,352 400,354 430,346 C450,340 462,334 470,326" fill="none" stroke="#d0d0d8" stroke-width="5"/></g>
</g>
<g id="dome" transform="translate(737,525) scale(0.22472)">
<path d="M50,585 L150,560 L215,568 L262,588 L262,600 L215,590 L185,612 L172,606 L196,582 L150,574 L60,596 Z" fill="#0a0a0a"/>
<polygon points="150,430 215,425 215,565 150,565" fill="#121212"/>
<polygon points="150,410 190,400 205,430 160,445" fill="#1a1a1a"/>
<path d="M210,300 L267,335 L267,365 L215,350 Z" fill="#0c0c0c"/>
<ellipse cx="150" cy="320" rx="82" ry="68" fill="#0a0a0a" transform="rotate(18 150 320)"/>
<ellipse cx="142" cy="328" rx="66" ry="54" fill="#0f2c3e" transform="rotate(18 142 328)"/>
<path d="M82,330 C110,318 160,318 205,345" fill="none" stroke="#35a8e0" stroke-width="7" stroke-opacity="0.9"/>
<path d="M84,350 C115,338 160,342 200,365" fill="none" stroke="#2a88c0" stroke-width="4" stroke-opacity="0.8"/>
<ellipse cx="121" cy="346" rx="11" ry="13" fill="#b6b6b6"/>
<path d="M114,356 L128,356 L130,368 C142,372 148,380 150,392 L160,384 L166,392 L152,412 L148,432 C154,455 156,480 154,502 L142,502 L144,560 L148,594 L152,602 L134,602 L132,560 L128,520 L122,560 L124,598 L110,600 L110,560 L106,502 L94,502 C94,470 98,440 102,420 C96,400 98,382 106,372 L112,368 Z" fill="#b6b6b6"/>
</g>
<g id="links" fill="none">
<line x1="101.500" y1="127" x2="101.500" y2="168" stroke="#1a7f1a" stroke-width="2.800"/>
<line x1="215.300" y1="135" x2="215.300" y2="184" stroke="#ffb000" stroke-width="2"/>
<line x1="407.300" y1="144" x2="407.300" y2="182" stroke="#e60000" stroke-width="3"/>
<line x1="401" y1="204.500" x2="376" y2="256" stroke="#800080" stroke-width="2.800"/>
<line x1="410" y1="204.500" x2="430" y2="256" stroke="#800080" stroke-width="2.800"/>
<ellipse cx="403" cy="217" rx="15" ry="4" stroke="#800080" stroke-width="1" stroke-dasharray="1 1.500"/>
<line x1="468.500" y1="280.500" x2="501" y2="244.500" stroke="#800080" stroke-width="2.800"/>
<line x1="423.500" y1="193" x2="492" y2="210.500" stroke="#1a7f1a" stroke-width="3" stroke-dasharray="3 3.900"/>
<line x1="382.500" y1="305.100" x2="423" y2="305.100" stroke="#1a7f1a" stroke-width="2.400"/>
<line x1="382.500" y1="309.500" x2="423" y2="309.500" stroke="#1a7f1a" stroke-width="2.400"/>
<ellipse cx="403.500" cy="307" rx="2.500" ry="7" stroke="#1a7f1a" stroke-width="0.8" stroke-dasharray="1 1.500"/>
<line x1="468.500" y1="297.600" x2="593" y2="294.400" stroke="#1a7f1a" stroke-width="2.800"/>
<line x1="446.800" y1="322" x2="451.300" y2="353.500" stroke="#1a7f1a" stroke-width="3.200"/>
</g>
<g id="drops">
<line x1="423.5" y1="357" x2="423.5" y2="383" stroke="#4f81bd" stroke-width="1"/>
<line x1="426.5" y1="357" x2="426.5" y2="383" stroke="#4f81bd" stroke-width="1"/>
<line x1="429.5" y1="357" x2="429.5" y2="383" stroke="#4f81bd" stroke-width="1"/>
<line x1="432.5" y1="357" x2="432.5" y2="383" stroke="#4f81bd" stroke-width="1"/>
<line x1="636.500" y1="357" x2="636.500" y2="520" stroke="#4f81bd" stroke-width="1"/>
<line x1="694.500" y1="357" x2="694.500" y2="507" stroke="#ffc000" stroke-width="1"/>
<line x1="744.500" y1="357" x2="744.500" y2="524" stroke="#4f81bd" stroke-width="1"/>
<line x1="326.500" y1="395.4" x2="366.500" y2="395.4" stroke="#2dbd5a" stroke-width="1.600"/>
<line x1="326.500" y1="398.8" x2="366.500" y2="398.8" stroke="#2dbd5a" stroke-width="1.600"/>
<line x1="326.500" y1="402.2" x2="366.500" y2="402.2" stroke="#2dbd5a" stroke-width="1.600"/>
<line x1="326.500" y1="405.6" x2="366.500" y2="405.6" stroke="#2dbd5a" stroke-width="1.600"/>
<rect x="417.0" y="493" width="4.200" height="26" fill="#f25050"/>
<rect x="418.5" y="493" width="1.200" height="26" fill="#f8a0a0"/>
<rect x="425.1" y="493" width="4.200" height="26" fill="#f25050"/>
<rect x="426.6" y="493" width="1.200" height="26" fill="#f8a0a0"/>
<rect x="433.2" y="493" width="4.200" height="26" fill="#f25050"/>
<rect x="434.7" y="493" width="1.200" height="26" fill="#f8a0a0"/>
<rect x="441.3" y="493" width="4.200" height="26" fill="#f25050"/>
<rect x="442.8" y="493" width="1.200" height="26" fill="#f8a0a0"/>
</g>
<g id="labels">
<rect x="0.500" y="21.500" width="205" height="36" fill="#ffccff" stroke="#000" stroke-width="1"/>
<text class="i" x="8.4" y="36" font-size="11.8" fill="#000" textLength="188" lengthAdjust="spacingAndGlyphs">高性能可視化システムの遠隔利用による</text>
<text class="i" x="8.4" y="49" font-size="11.8" fill="#000" textLength="122.6" lengthAdjust="spacingAndGlyphs">準リアルタイム可視化処理</text>
<rect x="246.500" y="146.500" width="139" height="37.500" fill="#ffccff" stroke="#000" stroke-width="1"/>
<text class="i" x="255.7" y="162.3" font-size="11.8" fill="#000" textLength="120.3" lengthAdjust="spacingAndGlyphs">VR遠隔会議空間システム</text>
<text class="i" x="256" y="175" font-size="11.8" fill="#000" textLength="76" lengthAdjust="spacingAndGlyphs">構成方法の研究</text>
<text class="g" x="223.3" y="129.6" font-size="19" fill="#111" textLength="105.8" lengthAdjust="spacingAndGlyphs">インターネット</text>
<text class="g" x="162" y="76.5" font-size="23.5" fill="#e60000" textLength="18.5" lengthAdjust="spacingAndGlyphs" stroke="#e60000" stroke-width="0.4">1.</text>
<text class="g" x="340" y="129.8" font-size="23.5" fill="#e60000" textLength="18.5" lengthAdjust="spacingAndGlyphs" stroke="#e60000" stroke-width="0.4">2.</text>
<text class="g" x="727" y="458" font-size="23" fill="#e60000" textLength="18" lengthAdjust="spacingAndGlyphs">3.</text>
<text class="g b" x="385.5" y="131" font-size="14" fill="#e60000" textLength="47" lengthAdjust="spacingAndGlyphs">SINET5</text>
<text class="g b" x="409" y="163" font-size="14.5" fill="#e60000" textLength="36" lengthAdjust="spacingAndGlyphs">100G</text>
<text class="g b" x="437" y="187.5" font-size="13.5" fill="#1a7f1a" textLength="34" lengthAdjust="spacingAndGlyphs">(10G)</text>
<text class="g b" x="421" y="232.5" font-size="13" fill="#800080" textLength="39" lengthAdjust="spacingAndGlyphs">40Gx2</text>
<text class="g b" x="492" y="281.5" font-size="13.3" fill="#800080" textLength="26.5" lengthAdjust="spacingAndGlyphs">40G</text>
<text class="g b" x="557" y="312.3" font-size="13.3" fill="#1a7f1a" textLength="26" lengthAdjust="spacingAndGlyphs">10G</text>
<text class="g b" x="382.5" y="324.5" font-size="13" fill="#1a7f1a" textLength="40" lengthAdjust="spacingAndGlyphs">10Gx4</text>
<text class="g b" x="462" y="340" font-size="13" fill="#1a7f1a" textLength="24" lengthAdjust="spacingAndGlyphs">10G</text>
<polygon points="355,256.500 460,256.500 452.500,270 345.700,270" fill="#c8690f"/>
<text class="g b" x="390" y="267" font-size="13.5" fill="#ffffff" textLength="25" lengthAdjust="spacingAndGlyphs">vPC</text>
<text class="n b" x="289.8" y="247.3" font-size="13" fill="#c47a1a" textLength="72" lengthAdjust="spacingAndGlyphs" stroke="#c47a1a" stroke-width="0.3">スーパコアSW</text>
<text class="i" y="309.800" font-size="14.500" fill="#000"><tspan x="43.500" textLength="65" lengthAdjust="spacingAndGlyphs">外部計算機</tspan><tspan x="109" textLength="46.500" lengthAdjust="spacingAndGlyphs">システム</tspan></text>
<text class="n" x="202" y="259" font-size="13" fill="#222" textLength="38.5" lengthAdjust="spacingAndGlyphs">携帯型</text>
<text class="n" x="183" y="276" font-size="13" fill="#222" textLength="77" lengthAdjust="spacingAndGlyphs">HMDシステム</text>
<text class="g" x="588" y="195" font-size="14.3" fill="#000" textLength="198" lengthAdjust="spacingAndGlyphs">Fujitsu PRIMERGY&#160;&#160;CX400/2550</text>
<text class="g" x="592" y="211.5" font-size="14.3" fill="#000" textLength="190.5" lengthAdjust="spacingAndGlyphs">Fujitsu PRIMERGY&#160;&#160;CX400/270</text>
<text class="n" x="314" y="378" font-size="12" fill="#000" textLength="62" lengthAdjust="spacingAndGlyphs">IB 4xFDR x4</text>
<text class="n" x="440" y="369.8" font-size="12" fill="#000" textLength="36.5" lengthAdjust="spacingAndGlyphs">10G x4</text>
<text class="n" x="639.5" y="369" font-size="12" fill="#000" textLength="21.5" lengthAdjust="spacingAndGlyphs">10G</text>
<text class="n" x="703" y="369" font-size="12" fill="#000" textLength="12.5" lengthAdjust="spacingAndGlyphs">1G</text>
<text class="n" x="750" y="369" font-size="12" fill="#000" textLength="21.5" lengthAdjust="spacingAndGlyphs">10G</text>
<text class="n" x="497.5" y="406.5" font-size="13" fill="#000" textLength="127.5" lengthAdjust="spacingAndGlyphs">高性能可視化システム</text>
<text class="n" x="497.5" y="423.3" font-size="13" fill="#000" textLength="113.5" lengthAdjust="spacingAndGlyphs">兼 ファイル制御装置</text>
<text class="n" x="497.5" y="438.5" font-size="12.5" fill="#000" textLength="64" lengthAdjust="spacingAndGlyphs">SGI UV2000</text>
<text class="n" x="497.5" y="456" font-size="12.5" fill="#e60000" textLength="116.5" lengthAdjust="spacingAndGlyphs">1280コア (24 TFlop/s)</text>
<text class="n" x="497.5" y="471" font-size="12.5" fill="#e60000" textLength="91" lengthAdjust="spacingAndGlyphs">20 TiB共有メモリ</text>
<text class="n" x="245.5" y="483.5" font-size="12.5" fill="#000" textLength="103.5" lengthAdjust="spacingAndGlyphs">磁気ディスクアレイ</text>
<text class="n" x="238.5" y="499.5" font-size="12" fill="#000" textLength="117.5" lengthAdjust="spacingAndGlyphs">InfiniteStorage 17000</text>
<text class="n" x="252.3" y="517" font-size="12.5" fill="#e60000" textLength="90.5" lengthAdjust="spacingAndGlyphs">実効容量2.39PB</text>
<text class="i" x="212.5" y="537.8" font-size="14.5" fill="#000" textLength="139.5" lengthAdjust="spacingAndGlyphs">SSD付きファイルシステム</text>
<text class="i" x="237" y="553" font-size="13.5" fill="#d00000" textLength="89.5" lengthAdjust="spacingAndGlyphs">実効容量512TB</text>
<text class="n" x="452" y="512" font-size="12" fill="#000" textLength="52" lengthAdjust="spacingAndGlyphs">DVI-D x16</text>
<text class="n" x="354.5" y="640.7" font-size="12.5" fill="#000" textLength="153.5" lengthAdjust="spacingAndGlyphs">高精細ディスプレイシステム</text>
<text class="n" x="371" y="658" font-size="12.5" fill="#e60000" textLength="120.5" lengthAdjust="spacingAndGlyphs">16面 (横4m × 縦2.3m)</text>
<text class="n" x="382" y="674" font-size="12.5" fill="#e60000" textLength="96.5" lengthAdjust="spacingAndGlyphs">7680x4320解像度</text>
<text class="n" x="608.5" y="616" font-size="13" fill="#222" textLength="37.5" lengthAdjust="spacingAndGlyphs">据置型</text>
<text class="n" x="589.5" y="632" font-size="13" fill="#222" textLength="75" lengthAdjust="spacingAndGlyphs">HMDシステム</text>
<text class="n" x="574" y="659.5" font-size="12.5" fill="#000" textLength="164.5" lengthAdjust="spacingAndGlyphs">ドーム型ディスプレイシステム</text>
<text class="n" x="686" y="595.5" font-size="13" fill="#222" textLength="38" lengthAdjust="spacingAndGlyphs">携帯型</text>
<text class="n" x="668" y="610.3" font-size="13" fill="#222" textLength="75.5" lengthAdjust="spacingAndGlyphs">HMDシステム</text>
</g>
<g id="flows" fill="none" stroke-linejoin="miter">
<path d="M107.500,194 L133,86.800 L364,86.500 L461,262.500 L461,428" stroke="#e60000" stroke-width="4.300"/>
<polygon points="105.0,205.5 101.7,191.4 114.3,194.3" fill="#e60000"/>
<polygon points="461.0,437.0 455.0,426.0 467.0,426.0" fill="#e60000"/>
<path d="M223,176 L243.200,105 L390.500,101.800 L486.500,272.500 L486.500,374 L669.500,371.500 L669.500,518" stroke="#e60000" stroke-width="4.300"/>
<polygon points="221.0,186.5 218.1,172.2 230.7,175.7" fill="#e60000"/>
<polygon points="669.5,527.5 663.5,516.0 675.5,516.0" fill="#e60000"/>
<path d="M717,306 L717,518" stroke="#e60000" stroke-width="4.300"/>
<polygon points="717.0,296.0 723.0,307.5 711.0,307.5" fill="#e60000"/>
<polygon points="717.0,527.5 711.0,516.0 723.0,516.0" fill="#e60000"/>
</g>
</svg>
</body></html>
